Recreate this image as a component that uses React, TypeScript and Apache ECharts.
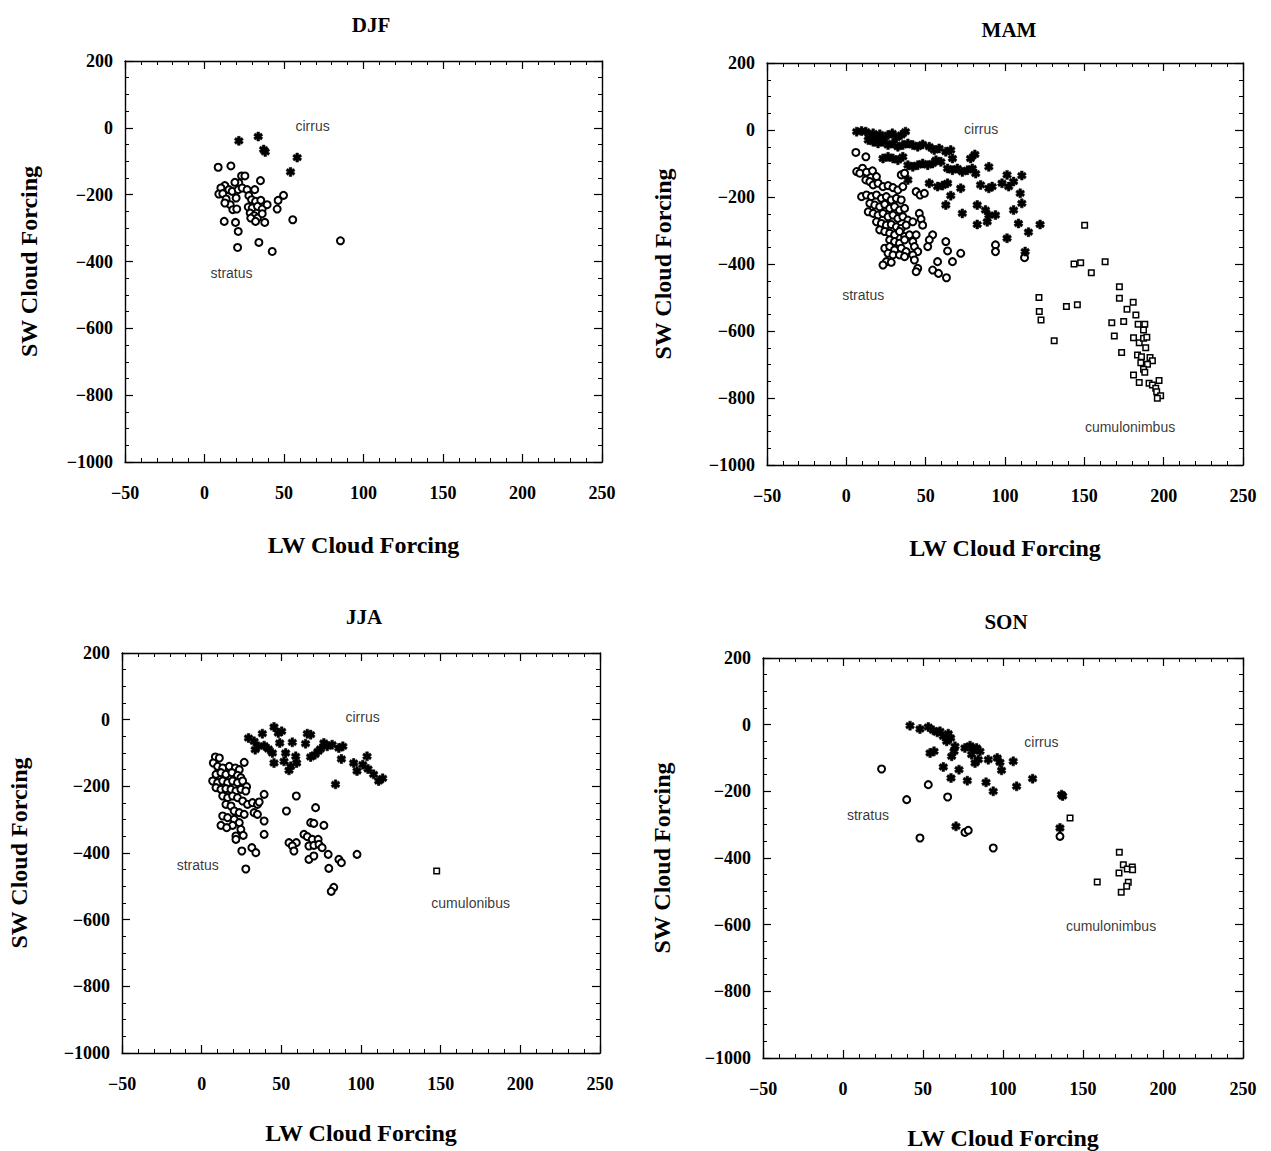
import React, { useEffect, useRef } from "react";
import * as echarts from "echarts";

type P = [number, number];

const seasons = ["DJF", "MAM", "JJA", "SON"];
const xTickValues = [-50, 0, 50, 100, 150, 200, 250];
const yTickValues = [-1000, -800, -600, -400, -200, 0, 200];

// DJF
const djfCirrus: P[] = [[21.6, -39], [33.8, -26], [37.2, -65], [38.2, -72], [58.3, -89], [54.1, -132]];
const djfStratus: P[] = [
  [8.6, -118], [16.6, -114], [35.2, -158], [23.3, -144], [25.4, -144], [21.6, -165], [19.1, -163],
  [12.8, -173], [10.3, -180], [15.3, -185], [9, -198], [11.5, -197], [17.4, -190], [21.2, -185],
  [23.7, -180], [26.8, -185], [31.6, -185], [13.6, -213], [16.2, -230], [17.8, -245], [20.3, -243],
  [12.8, -225], [19.9, -210], [27.9, -203], [29.6, -215], [32.1, -220], [35.4, -217], [27.5, -237],
  [30, -240], [33.3, -235], [36.3, -243], [39.4, -230], [28.7, -255], [31.3, -263], [33.3, -270],
  [36.3, -257], [29.1, -270], [32.1, -280], [37.9, -283], [45.7, -243], [46.3, -217], [49.7, -202],
  [55.5, -275], [12.4, -280], [19.5, -283], [21.2, -310], [20.8, -358], [34.2, -343], [42.6, -370],
  [85.5, -338]
];

// MAM
const mamCirrus: P[] = [
  [6.5, -5], [9.6, -3], [12.3, -5], [14.8, -15], [16.9, -10], [19, -20], [21.1, -13], [23.1, -25],
  [26.3, -15], [29, -10], [31.5, -23], [34.6, -15], [37.3, -5], [13.8, -30], [16.9, -35], [20, -40],
  [23.1, -35], [26.3, -45], [29.4, -40], [32.5, -50], [35.6, -45], [38.8, -40], [41.9, -45], [45, -50],
  [48.1, -43], [52.3, -50], [55.4, -60], [58.5, -55], [62.7, -65], [65.8, -60], [66.9, -85], [23.1, -85],
  [26.3, -80], [29.4, -85], [32.5, -90], [35.6, -80], [38.8, -105], [41.9, -110], [45, -105], [48.1, -100],
  [51.3, -105], [54.4, -100], [56.5, -90], [59.6, -95], [63.8, -115], [66.9, -120], [70, -115], [73.1, -125],
  [76.3, -120], [79.4, -115], [78.3, -85], [81, -73], [89.8, -110], [81.5, -130], [38.8, -149], [52.3, -159],
  [57.5, -169], [60.6, -166], [63.8, -159], [72.1, -174], [65.8, -196], [84.6, -164], [89.8, -174],
  [91.9, -169], [98.1, -159], [101.3, -134], [102.3, -169], [105.4, -154], [110.6, -136], [109.6, -189],
  [62.7, -224], [73.1, -249], [82.5, -224], [87.7, -239], [89.8, -254], [94, -254], [88.8, -274],
  [82.5, -282], [105.4, -239], [110.6, -219], [108.5, -279], [114.8, -305], [122.1, -282], [101.3, -323],
  [112.7, -363]
];
const mamStratus: P[] = [
  [6, -67], [12.3, -80], [10.2, -114], [6.5, -124], [8.5, -129], [12.7, -126], [16.5, -122], [19, -139],
  [12.3, -149], [14.8, -154], [16.9, -164], [20, -159], [23.1, -169], [26.3, -166], [29.4, -172], [32.5, -179],
  [35.6, -169], [34.6, -134], [36.7, -129], [44, -184], [46.5, -194], [49.2, -189], [9.6, -199], [12.7, -194],
  [15.8, -199], [19, -194], [22.1, -204], [25.2, -199], [28.3, -209], [31.5, -204], [34.6, -209], [14.8, -219],
  [17.9, -224], [21, -229], [24.2, -222], [27.3, -234], [30.4, -229], [33.5, -239], [36.7, -234], [13.8, -244],
  [16.9, -249], [20, -254], [23.1, -249], [26.3, -259], [29.4, -254], [32.5, -264], [35.6, -259], [38.8, -269],
  [46, -249], [47.1, -266], [19, -274], [22.1, -279], [25.2, -284], [28.3, -282], [31.5, -289], [34.6, -294],
  [37.7, -284], [41.9, -274], [48.1, -284], [21, -298], [24.2, -303], [27.3, -308], [30.4, -313], [33.5, -303],
  [36.7, -318], [39.8, -313], [44, -313], [54.4, -313], [27.3, -328], [30.4, -333], [33.5, -338], [36.7, -328],
  [41.9, -333], [52.3, -328], [24.2, -353], [27.3, -348], [30.4, -358], [34.6, -353], [37.7, -363], [42.9, -348],
  [45, -363], [51.3, -348], [62.7, -333], [63.8, -361], [72.1, -368], [26.3, -368], [29.4, -373], [33.5, -373],
  [36.7, -378], [41.9, -373], [25.2, -393], [28.3, -395], [23.1, -403], [42.9, -388], [45, -413], [44, -423],
  [57.5, -393], [66.9, -393], [54.4, -418], [58.1, -428], [63.1, -441], [94, -343], [94, -363], [112.3, -381]
];
const mamCumulonimbus: P[] = [
  [150.2, -284], [143.5, -400], [147.7, -396], [163.1, -393], [154.4, -426], [172.1, -468], [172.1, -502],
  [180.8, -514], [176.9, -535], [182.5, -552], [167.3, -575], [174.8, -572], [183.9, -580], [188.1, -580],
  [187.3, -597], [168.9, -615], [181, -620], [184.6, -635], [187.3, -622], [189.4, -619], [188.7, -650],
  [173.5, -664], [183.5, -672], [186, -677], [191.4, -679], [192.9, -689], [189.8, -699], [187.3, -714],
  [185.6, -695], [181, -731], [188.1, -723], [197.1, -748], [184.6, -754], [190.8, -756], [192.9, -761],
  [195, -771], [195.6, -781], [198.1, -793], [196, -801], [121.4, -500], [121.6, -542], [122.7, -567],
  [138.7, -527], [145.6, -522], [131, -629]
];

// JJA
const jjaCirrus: P[] = [
  [29.4, -55], [32.9, -65], [38.1, -42], [33.6, -90], [35.6, -80], [39.2, -78], [41.9, -88], [44.4, -100],
  [45.4, -22], [48.1, -40], [50.2, -35], [49, -70], [52.7, -100], [45.4, -130], [51.7, -125], [55.9, -140],
  [54.8, -152], [56.9, -68], [59, -110], [59.6, -130], [66.3, -42], [68.4, -45], [65.2, -72], [68.4, -112],
  [71.1, -105], [73.1, -95], [74.6, -88], [76.7, -70], [78.8, -80], [81.9, -75], [86.1, -85], [88.6, -80],
  [87.7, -118], [95.4, -130], [97.5, -154], [101.1, -135], [103.8, -110], [104.4, -148], [107.9, -164],
  [111.1, -184], [113.6, -176], [84, -194]
];
const jjaStratus: P[] = [
  [8.6, -112], [11.1, -115], [7.3, -130], [10, -140], [13.2, -145], [17.3, -140], [21.1, -145], [23.6, -150],
  [26.7, -128], [9, -164], [12.1, -159], [15.2, -164], [19, -159], [22.5, -167], [24.6, -174], [6.9, -184],
  [10, -189], [13.2, -184], [16.3, -189], [19.4, -184], [22.5, -189], [25.7, -184], [28.2, -201], [9, -204],
  [12.1, -209], [15.2, -207], [18.4, -209], [21.5, -214], [24.6, -209], [27.7, -214], [13.2, -229], [16.3, -234],
  [19.4, -229], [22.5, -234], [25.7, -244], [28.8, -254], [31.9, -249], [35, -254], [36.1, -247], [39.2, -224],
  [15.2, -254], [18.4, -259], [20.4, -274], [23.6, -279], [26.7, -284], [32.9, -279], [35, -284], [13.2, -289],
  [16.3, -294], [20.4, -299], [23.6, -309], [19.4, -317], [12.1, -317], [15.7, -324], [24.6, -329], [21.5, -349],
  [26.1, -347], [21.5, -359], [39.2, -304], [39.2, -344], [25.2, -394], [31.5, -384], [34, -399], [27.7, -448],
  [53.2, -274], [59.4, -229], [71.5, -264], [68.4, -309], [70.4, -311], [76.7, -317], [64.2, -344], [66.3, -351],
  [69.4, -359], [73.1, -359], [54.8, -369], [59.4, -369], [56.9, -379], [67.3, -379], [70.4, -377], [73.6, -374],
  [75.6, -384], [57.9, -394], [67.3, -419], [70.4, -409], [79.4, -404], [86.1, -419], [87.7, -429], [79.8, -446],
  [97.5, -404], [82.9, -503], [81.3, -515]
];
const jjaCumulonimbus: P[] = [[147.5, -454]];

// SON
const sonCirrus: P[] = [
  [41.9, -3], [48.1, -13], [53.3, -7], [56.4, -17], [58.9, -23], [60.6, -20], [62.7, -35], [65.8, -27],
  [67.3, -40], [64.8, -50], [70, -65], [69.4, -80], [67.9, -95], [54.4, -85], [56.9, -80], [76.2, -70],
  [79.4, -63], [81.4, -73], [83.5, -70], [85.6, -80], [80.4, -90], [84.6, -105], [82.5, -115], [90.8, -105],
  [96.4, -100], [98.1, -113], [99.1, -137], [106.4, -110], [62.7, -127], [72.5, -135], [67.5, -160],
  [77.7, -168], [89.4, -173], [93.9, -200], [108.5, -185], [118.5, -162], [70.6, -305], [136.6, -210],
  [137.3, -214], [135.6, -310]
];
const sonStratus: P[] = [
  [24.1, -133], [53.3, -180], [39.8, -225], [65.4, -217], [48.1, -340], [76.2, -323], [78.3, -317],
  [93.9, -370], [135.6, -335]
];
const sonCumulonimbus: P[] = [
  [141.9, -280], [172.7, -383], [158.9, -472], [175.2, -420], [177.7, -433], [180.8, -427], [181, -435],
  [172.5, -445], [178.3, -473], [177.3, -485], [173.9, -503]
];

// cloud-type annotations: [season index, text, x, y]
const annotations: [number, string, number, number][] = [
  [0, "cirrus", 68, 6], [0, "stratus", 17, -433],
  [1, "cirrus", 85, 3], [1, "stratus", 10.6, -492], [1, "cumulonimbus", 178.8, -887],
  [2, "cirrus", 101, 9], [2, "stratus", -2.5, -436], [2, "cumulonibus", 168.8, -550],
  [3, "cirrus", 124, -51], [3, "stratus", 15.6, -270], [3, "cumulonimbus", 167.5, -603]
];

const seriesData: { cirrus: P[]; stratus: P[]; cumulonimbus: P[] }[] = [
  { cirrus: djfCirrus, stratus: djfStratus, cumulonimbus: [] },
  { cirrus: mamCirrus, stratus: mamStratus, cumulonimbus: mamCumulonimbus },
  { cirrus: jjaCirrus, stratus: jjaStratus, cumulonimbus: jjaCumulonimbus },
  { cirrus: sonCirrus, stratus: sonStratus, cumulonimbus: sonCumulonimbus }
];

// layout (pixels)
const grids = [
  { left: 125, top: 61, width: 477, height: 401, titleX: 371, titleY: 25, yGap: 84, xGap: 71 },
  { left: 767, top: 63, width: 476, height: 402, titleX: 1009, titleY: 30, yGap: 92, xGap: 71 },
  { left: 122, top: 653, width: 478, height: 400, titleX: 364, titleY: 617, yGap: 91, xGap: 68 },
  { left: 763, top: 658, width: 480, height: 400, titleX: 1006, titleY: 622, yGap: 89, xGap: 68 }
];

const SERIF = '"Liberation Serif", "DejaVu Serif", serif';
const SANS = '"Liberation Sans", "DejaVu Sans", sans-serif';
const STAR =
  "path://M-0.3,-1L0.3,-1L0.3,1L-0.3,1ZM-1.016,-0.24L-0.716,-0.76L1.016,0.24L0.716,0.76ZM0.716,-0.76L1.016,-0.24L-0.716,0.76L-1.016,0.24Z";

const fmt = (v: number) => (v < 0 ? "\u2212" + Math.abs(v) : String(v));

function buildOption() {
  const xAxis: any[] = [];
  const yAxis: any[] = [];
  const series: any[] = [];
  const graphic: any[] = [];
  const xMin = xTickValues[0];
  const xMax = xTickValues[xTickValues.length - 1];
  const yMin = yTickValues[0];
  const yMax = yTickValues[yTickValues.length - 1];
  const line = { show: true, onZero: false, lineStyle: { color: "#000", width: 1.4 } };

  grids.forEach((g, i) => {
    const common = { type: "value", gridIndex: i, splitLine: { show: false }, axisLine: line };
    const tick = { show: true, inside: true, length: 8, lineStyle: { color: "#000", width: 1.2 } };
    xAxis.push({
      ...common, position: "bottom", min: xMin, max: xMax, interval: 50,
      axisTick: tick,
      minorTick: { show: true, splitNumber: 5, length: 4, lineStyle: { color: "#000", width: 1 } },
      axisLabel: { margin: 22, formatter: fmt, color: "#000", fontFamily: SERIF, fontWeight: "bold", fontSize: 18 },
      name: "LW Cloud Forcing", nameLocation: "middle", nameGap: g.xGap,
      nameTextStyle: { color: "#000", fontFamily: SERIF, fontWeight: "bold", fontSize: 24 }
    });
    xAxis.push({
      ...common, position: "top", min: xMin, max: xMax, interval: 50,
      axisTick: tick,
      minorTick: { show: true, splitNumber: 5, length: 4, lineStyle: { color: "#000", width: 1 } },
      axisLabel: { show: false }
    });
    yAxis.push({
      ...common, position: "left", min: yMin, max: yMax, interval: 200,
      axisTick: tick,
      minorTick: { show: true, splitNumber: 4, length: 4, lineStyle: { color: "#000", width: 1 } },
      axisLabel: { margin: 12, formatter: fmt, color: "#000", fontFamily: SERIF, fontWeight: "bold", fontSize: 18 },
      name: "SW Cloud Forcing", nameLocation: "middle", nameGap: g.yGap,
      nameTextStyle: { color: "#000", fontFamily: SERIF, fontWeight: "bold", fontSize: 24 }
    });
    yAxis.push({
      ...common, position: "right", min: yMin, max: yMax, interval: 200,
      axisTick: tick,
      minorTick: { show: true, splitNumber: 4, length: 4, lineStyle: { color: "#000", width: 1 } },
      axisLabel: { show: false }
    });

    const xi = i * 2;
    const yi = i * 2;
    const d = seriesData[i];
    series.push({
      type: "scatter", name: seasons[i] + " stratus", xAxisIndex: xi, yAxisIndex: yi,
      data: d.stratus, symbol: "circle", symbolSize: 7,
      itemStyle: { color: "#fff", borderColor: "#000", borderWidth: 2, opacity: 1 }
    });
    series.push({
      type: "scatter", name: seasons[i] + " cirrus", xAxisIndex: xi, yAxisIndex: yi,
      data: d.cirrus, symbol: STAR, symbolSize: 9,
      itemStyle: { color: "#000", borderColor: "#000", borderWidth: 0.5, opacity: 1 }
    });
    if (d.cumulonimbus.length) {
      series.push({
        type: "scatter", name: seasons[i] + " cumulonimbus", xAxisIndex: xi, yAxisIndex: yi,
        data: d.cumulonimbus, symbol: "rect", symbolSize: 5.5,
        itemStyle: { color: "#fff", borderColor: "#000", borderWidth: 1.5, opacity: 1 }
      });
    }
    series.push({
      type: "scatter", name: seasons[i] + " labels", xAxisIndex: xi, yAxisIndex: yi,
      symbolSize: 1, itemStyle: { color: "rgba(0,0,0,0)" }, silent: true,
      data: annotations.filter((a) => a[0] === i).map((a) => ({ name: a[1], value: [a[2], a[3]] })),
      label: {
        show: true, position: "inside", formatter: (p: any) => p.name,
        color: "#000", fontFamily: SANS, fontSize: 14
      }
    });

    graphic.push({
      type: "text", x: g.titleX, y: g.titleY,
      style: { text: seasons[i], align: "center", verticalAlign: "middle", fill: "#000",
        font: 'bold 21px "Liberation Serif", serif' }
    });
  });

  return {
    animation: false,
    backgroundColor: "#fff",
    grid: grids.map((g) => ({ left: g.left, top: g.top, width: g.width, height: g.height, containLabel: false })),
    xAxis, yAxis, series, graphic
  };
}

export default function App() {
  const ref = useRef<HTMLDivElement>(null);
  useEffect(() => {
    if (!ref.current) return;
    const chart = echarts.init(ref.current, undefined, { renderer: "svg" });
    chart.setOption(buildOption() as any);
    return () => chart.dispose();
  }, []);
  return (
    <div
      ref={ref}
      style={{ position: "absolute", left: 0, top: 0, width: 1271, height: 1151, background: "#fff" }}
    />
  );
}
